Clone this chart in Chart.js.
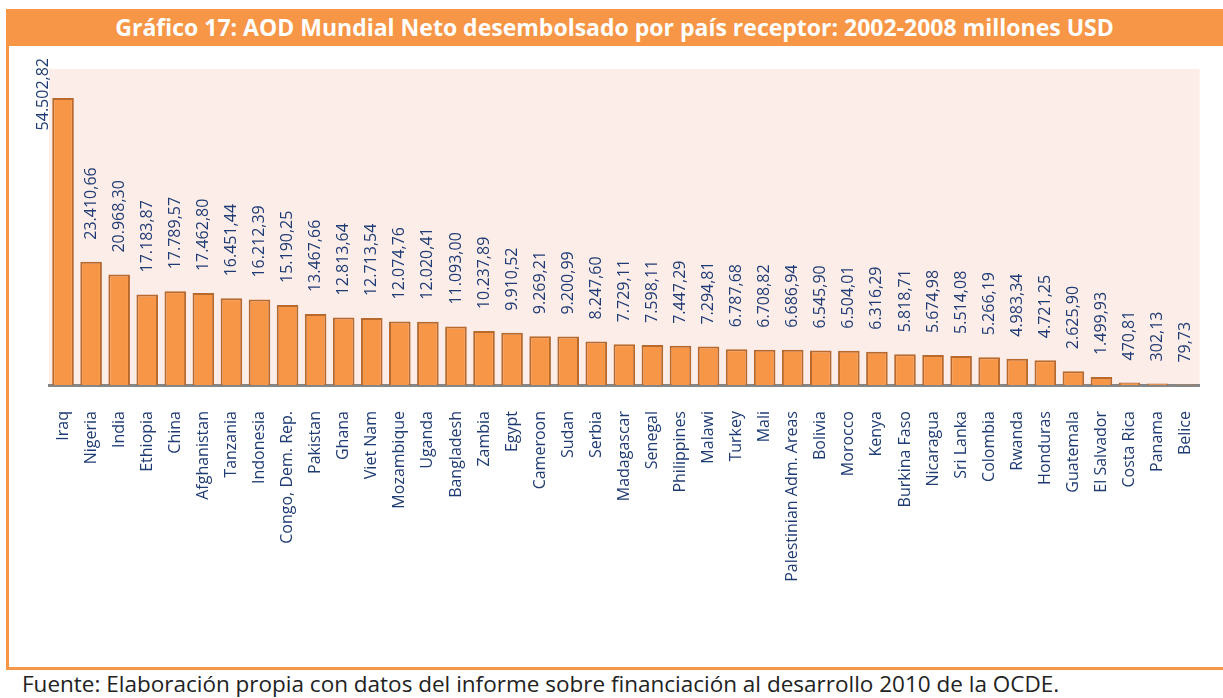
<!DOCTYPE html>
<html>
<head>
  <meta charset="UTF-8" />
  <title>Gráfico 17 - AOD Mundial Neto</title>
  <script src="https://cdn.jsdelivr.net/npm/chart.js"></script>
  <style>
    body {
      margin: 0;
      width: 1223px;
      height: 698px;
      background: white;
      font-family: "Open Sans", Arial, sans-serif;
      position: relative;
      overflow: hidden;
    }
    .frame-left {
      position: absolute; left: 6px; top: 9px; width: 3px; height: 661px; background: #F79646;
    }
    .frame-bottom {
      position: absolute; left: 6px; top: 667px; width: 1217px; height: 3px; background: #F79646;
    }
    .title {
      position: absolute; left: 6px; top: 9px; width: 1217px; height: 37px;
      background: #F79646; color: white; font-weight: bold; font-size: 23px;
      line-height: 37px; text-align: center; white-space: nowrap;
    }
    .source {
      position: absolute; left: 22px; top: 671px; font-size: 22.5px; line-height: 26px; color: #222;
      white-space: nowrap;
    }
    canvas {
      position: absolute; left: 0; top: 0;
    }
  </style>
</head>
<body>
  <div class="frame-left"></div>
  <div class="frame-bottom"></div>
  <div class="title">Gráfico 17: AOD Mundial Neto desembolsado por país receptor: 2002-2008 millones USD</div>
  <div class="source">Fuente: Elaboración propia con datos del informe sobre financiación al desarrollo 2010 de la OCDE.</div>
  <canvas id="aodChart" width="1223" height="698"></canvas>
  <script>
    const countries = ['Iraq', 'Nigeria', 'India', 'Ethiopia', 'China', 'Afghanistan', 'Tanzania', 'Indonesia',
      'Congo, Dem. Rep.', 'Pakistan', 'Ghana', 'Viet Nam', 'Mozambique', 'Uganda', 'Bangladesh', 'Zambia',
      'Egypt', 'Cameroon', 'Sudan', 'Serbia', 'Madagascar', 'Senegal', 'Philippines', 'Malawi', 'Turkey',
      'Mali', 'Palestinian Adm. Areas', 'Bolivia', 'Morocco', 'Kenya', 'Burkina Faso', 'Nicaragua',
      'Sri Lanka', 'Colombia', 'Rwanda', 'Honduras', 'Guatemala', 'El Salvador', 'Costa Rica', 'Panama', 'Belice'];
    const aodValues = [54502.82, 23410.66, 20968.30, 17183.87, 17789.57, 17462.80, 16451.44, 16212.39,
      15190.25, 13467.66, 12813.64, 12713.54, 12074.76, 12020.41, 11093.00, 10237.89,
      9910.52, 9269.21, 9200.99, 8247.60, 7729.11, 7598.11, 7447.29, 7294.81, 6787.68,
      6708.82, 6686.94, 6545.90, 6504.01, 6316.29, 5818.71, 5674.98,
      5514.08, 5266.19, 4983.34, 4721.25, 2625.90, 1499.93, 470.81, 302.13, 79.73];
    const yMax = 60000;

    const NAVY = '#1F3B73';

    // 54502.82 -> "54.502,82"
    function fmt(v) {
      const parts = v.toFixed(2).split('.');
      return parts[0].replace(/\B(?=(\d{3})+(?!\d))/g, '.') + ',' + parts[1];
    }

    const plotBackground = {
      id: 'plotBackground',
      beforeDraw(chart) {
        const a = chart.chartArea;
        chart.ctx.save();
        chart.ctx.fillStyle = '#FCEDE9';
        chart.ctx.fillRect(a.left, a.top, a.right - a.left, a.bottom - a.top);
        chart.ctx.restore();
      }
    };

    const valueLabels = {
      id: 'valueLabels',
      afterDatasetsDraw(chart) {
        const ctx = chart.ctx;
        const meta = chart.getDatasetMeta(0);
        const top = chart.chartArea.top;
        ctx.save();
        ctx.font = '16px "Open Sans"';
        ctx.fillStyle = NAVY;
        ctx.textBaseline = 'middle';
        ctx.textAlign = 'left';
        meta.data.forEach((bar, i) => {
          const txt = fmt(aodValues[i]);
          const w = ctx.measureText(txt).width;
          let x = bar.x;
          let y = bar.y - 22;
          if (y - w < top - 12) {
            // not enough room above the bar: put it beside, on the left
            x = bar.x - bar.width / 2 - 9;
            y = top - 11 + w;
          }
          ctx.save();
          ctx.translate(x, y);
          ctx.rotate(-Math.PI / 2);
          ctx.fillText(txt, 0, 0);
          ctx.restore();
        });
        ctx.restore();
      }
    };

    const ctx = document.getElementById('aodChart').getContext('2d');
    new Chart(ctx, {
      type: 'bar',
      data: {
        labels: countries,
        datasets: [{
          data: aodValues,
          backgroundColor: '#F79646',
          borderColor: '#B86A2E',
          borderWidth: 2,
          barPercentage: 0.77,
          categoryPercentage: 1
        }]
      },
      options: {
        responsive: false,
        animation: false,
        layout: { padding: { left: 49, right: 14, top: 69, bottom: 0 } },
        plugins: {
          legend: { display: false },
          title: { display: false },
          tooltip: { enabled: false }
        },
        scales: {
          x: {
            grid: { display: false },
            border: { display: true, color: '#868686', width: 3 },
            ticks: {
              autoSkip: false,
              minRotation: 90,
              maxRotation: 90,
              padding: 18,
              color: NAVY,
              font: { family: 'Open Sans', size: 16 }
            },
            afterFit(scale) { scale.height = 313; }
          },
          y: {
            display: false,
            min: 0,
            max: yMax
          }
        }
      },
      plugins: [plotBackground, valueLabels]
    });
  </script>
</body>
</html>
